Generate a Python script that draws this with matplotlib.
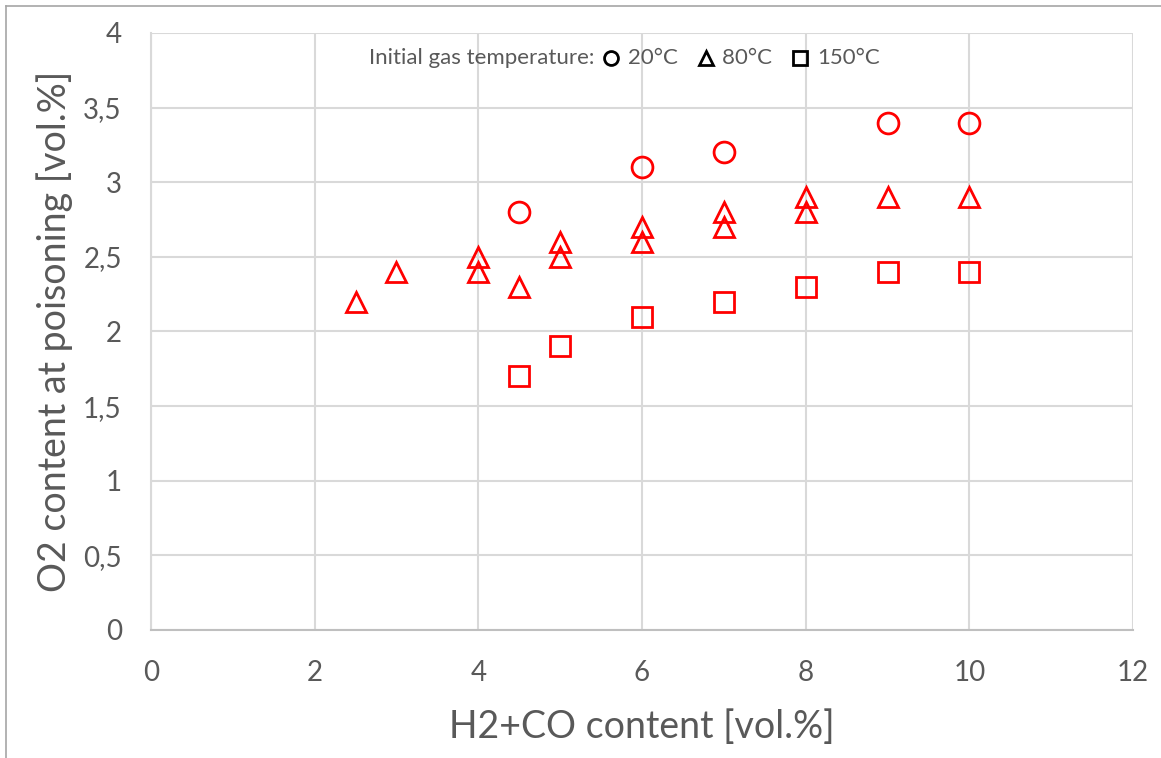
import matplotlib
matplotlib.use("Agg")
import matplotlib.pyplot as plt
from matplotlib.lines import Line2D
from matplotlib.offsetbox import TextArea, DrawingArea, HPacker, AnchoredOffsetbox

# data
x_20 = [4.5, 6, 7, 9, 10]
y_20 = [2.8, 3.1, 3.2, 3.4, 3.4]

x_80 = [2.5, 3, 4, 4, 4.5, 5, 5, 6, 6, 7, 7, 8, 8, 9, 10]
y_80 = [2.2, 2.4, 2.5, 2.4, 2.3, 2.6, 2.5, 2.7, 2.6, 2.8, 2.7, 2.9, 2.8, 2.9, 2.9]

x_150 = [4.5, 5, 6, 7, 8, 9, 10]
y_150 = [1.7, 1.9, 2.1, 2.2, 2.3, 2.4, 2.4]

x_ticks = [0, 2, 4, 6, 8, 10, 12]
y_ticks = [0, 0.5, 1, 1.5, 2, 2.5, 3, 3.5, 4]
y_labels = ["0", "0,5", "1", "1,5", "2", "2,5", "3", "3,5", "4"]

plt.rcParams["font.family"] = ["Lato", "DejaVu Sans"]
txt = "#595959"
grid = "#d9d9d9"

fig = plt.figure(figsize=(11.61, 7.58), dpi=100)
ax = fig.add_axes([0.130, 0.169, 0.846, 0.7875])

mk = dict(linestyle="none", markerfacecolor="none", markeredgecolor="red",
          markeredgewidth=2.0, markersize=15, clip_on=False)
ax.plot(x_20, y_20, marker="o", **mk)
ax.plot(x_80, y_80, marker="^", **mk)
ax.plot(x_150, y_150, marker="s", **mk)

ax.set_xlim(0, 12)
ax.set_ylim(0, 4)
ax.set_xticks(x_ticks)
ax.set_xticklabels([str(v) for v in x_ticks])
ax.set_yticks(y_ticks)
ax.set_yticklabels(y_labels)
ax.tick_params(length=0, labelsize=20, labelcolor=txt)
ax.tick_params(axis="y", pad=21)
ax.tick_params(axis="x", pad=22)
ax.grid(True, color=grid, linewidth=1.5)
ax.set_axisbelow(True)
for s in ["top", "right"]:
    ax.spines[s].set_visible(False)
ax.spines["left"].set_color(grid)
ax.spines["left"].set_linewidth(1.5)
ax.spines["bottom"].set_color("#bfbfbf")
ax.spines["bottom"].set_linewidth(1.5)

ax.set_xlabel("H2+CO content [vol.%]", fontsize=27, color=txt, labelpad=16)
ax.set_ylabel("O2 content at poisoning [vol.%]", fontsize=27, color=txt, labelpad=7)

# legend line at the top: text with small black markers
def marker_box(m):
    da = DrawingArea(18, 16, 0, 0)
    da.add_artist(Line2D([9], [8], marker=m, markersize=10, markerfacecolor="none",
                         markeredgecolor="black", markeredgewidth=2.0))
    return da

fs = 16
parts = [TextArea("Initial gas temperature:", textprops=dict(color=txt, fontsize=fs)),
         marker_box("o"),
         TextArea("20°C  ", textprops=dict(color=txt, fontsize=fs)),
         marker_box("^"),
         TextArea("80°C  ", textprops=dict(color=txt, fontsize=fs)),
         marker_box("s"),
         TextArea("150°C", textprops=dict(color=txt, fontsize=fs))]
box = HPacker(children=parts, align="center", pad=0, sep=3)
anch = AnchoredOffsetbox(loc="center", child=box, frameon=False,
                         bbox_to_anchor=(0.482, 0.958), bbox_transform=ax.transAxes)
ax.add_artist(anch)

# thin frame around the chart area (only left and top visible in the picture)
fig.add_artist(Line2D([0.0052, 0.0052], [0.0, 0.992], transform=fig.transFigure,
                      color="#a6a6a6", linewidth=1.2))
fig.add_artist(Line2D([0.0052, 1.0], [0.992, 0.992], transform=fig.transFigure,
                      color="#a6a6a6", linewidth=1.2))

fig.savefig("out.png", dpi=100)
